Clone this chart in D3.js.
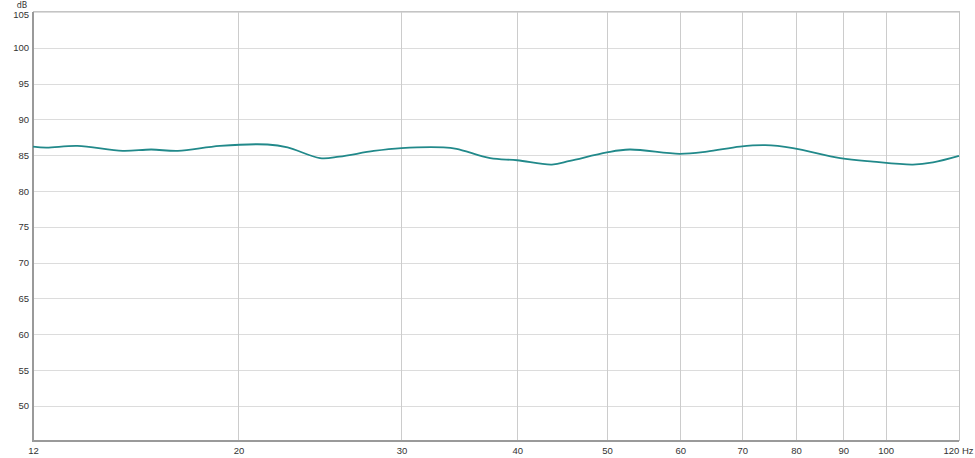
<!DOCTYPE html>
<html>
<head>
<meta charset="utf-8">
<script src="https://cdn.jsdelivr.net/npm/d3@7"></script>
<style>
  body { margin: 0; background: #fff; }
  svg { display: block; font-family: "DejaVu Sans", sans-serif; }
  .tick text { fill: #333; font-size: 9.5px; }
</style>
</head>
<body>
<svg width="975" height="458"></svg>
<script>
const freqs = [12.0, 12.4, 13.4, 15.0, 16.1, 17.2, 19.1, 21.5, 22.6, 24.5, 25.7, 28.0, 30.0,
               33.3, 34.4, 37.4, 40.0, 43.6, 45.6, 50.0, 52.9, 59.9, 64.1, 69.6, 74.1,
               79.4, 89.3, 96.9, 107.0, 112.5, 120.0];
const spl = [86.2, 86.05, 86.3, 85.6, 85.8, 85.6, 86.3, 86.5, 86.1, 84.6, 84.8, 85.6, 86.0,
             86.1, 85.9, 84.6, 84.3, 83.7, 84.2, 85.4, 85.8, 85.2, 85.5, 86.2, 86.4,
             86.0, 84.6, 84.1, 83.7, 84.0, 84.9];
const xTicks = [12, 20, 30, 40, 50, 60, 70, 80, 90, 100, 120];
const yTicks = [50, 55, 60, 65, 70, 75, 80, 85, 90, 95, 100, 105];

const svg = d3.select("svg"),
      margin = {left: 33, right: 16, top: 12, bottom: 17},
      width = +svg.attr("width"),
      height = +svg.attr("height");

const x = d3.scaleLog().domain([12, 120]).range([margin.left, width - margin.right]);
const y = d3.scaleLinear().domain([45.1, 105]).range([height - margin.bottom, margin.top]);

// grid
svg.append("g").selectAll("line")
  .data(yTicks)
  .enter().append("line")
  .attr("x1", margin.left).attr("x2", width - margin.right)
  .attr("y1", d => Math.round(y(d)) + 0.5).attr("y2", d => Math.round(y(d)) + 0.5)
  .attr("stroke", "#dcdcdc");

svg.append("g").selectAll("line")
  .data(xTicks.slice(1, -1))
  .enter().append("line")
  .attr("x1", d => Math.round(x(d)) + 0.5).attr("x2", d => Math.round(x(d)) + 0.5)
  .attr("y1", margin.top).attr("y2", height - margin.bottom)
  .attr("stroke", "#cccccc");

// frame
svg.append("rect")
  .attr("x", margin.left + 0.5).attr("y", margin.top - 0.5)
  .attr("width", width - margin.left - margin.right)
  .attr("height", height - margin.top - margin.bottom)
  .attr("fill", "none").attr("stroke", "#c4c4c4");

svg.append("path")
  .attr("d", `M${margin.left},${margin.top}V${height - margin.bottom}H${width - margin.right}`)
  .attr("fill", "none").attr("stroke", "#9a9a9a").attr("stroke-width", 2);

// axes
const yAxis = svg.append("g")
  .attr("transform", `translate(${margin.left - 1},0)`)
  .call(d3.axisLeft(y).tickValues(yTicks).tickSize(0).tickPadding(3));
yAxis.select(".domain").remove();
yAxis.selectAll(".tick text").attr("dy", d => d === 105 ? "0.55em" : "0.32em");

const xAxis = svg.append("g")
  .attr("transform", `translate(0,${height - margin.bottom + 1})`)
  .call(d3.axisBottom(x).tickValues(xTicks).tickSize(0).tickPadding(5)
    .tickFormat(d => d === 120 ? "120 Hz" : d));
xAxis.select(".domain").remove();
xAxis.selectAll(".tick text")
  .attr("text-anchor", d => d === 120 ? "end" : "middle")
  .attr("dx", d => d === 120 ? 14 : 0);

svg.append("text")
  .attr("x", 22).attr("y", 8)
  .attr("text-anchor", "middle")
  .attr("fill", "#333").attr("font-size", 8)
  .text("dB");

// response curve
const line = d3.line()
  .x((d, i) => x(freqs[i]))
  .y(d => y(d))
  .curve(d3.curveCatmullRom);

svg.append("path")
  .datum(spl)
  .attr("d", line)
  .attr("fill", "none")
  .attr("stroke", "#21898a")
  .attr("stroke-width", 1.8);
</script>
</body>
</html>
